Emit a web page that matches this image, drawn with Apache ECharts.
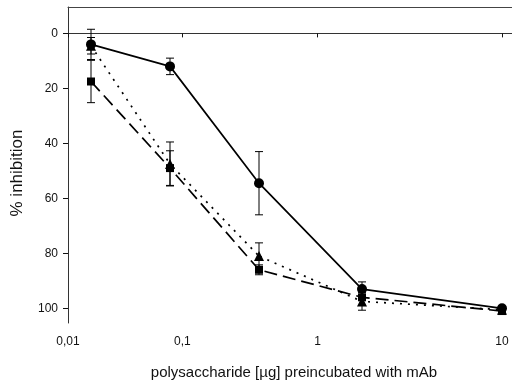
<!DOCTYPE html>
<html><head><meta charset="utf-8">
<script src="https://cdn.jsdelivr.net/npm/echarts@6/dist/echarts.min.js"></script>
<style>html,body{margin:0;padding:0;background:#fff}#c{width:512px;height:381px}</style>
</head><body><div id="c"></div>
<script>
// ---- data ----
var doses = [0.016, 0.08, 0.4, 2, 10];
var circleVals = [4, 12, 54.5, 93, 100];
var circleErr = [5.5, 3, 11.5, 2.6, 0.8];
var triangleVals = [4.5, 47.5, 81, 97.5, 100.5];
var triangleErr = [3, 8, 4.8, 3.2, 0.8];
var squareVals = [17.5, 49, 86, 96, 101];
var squareErr = [7.7, 6.3, 1.8, 3, 0.8];
var yTicks = [0, 20, 40, 60, 80, 100];
var xTicks = [0.01, 0.1, 1, 10];
var xTitle = 'polysaccharide [\u00b5g] preincubated with mAb';
var yTitle = '% inhibition';

// ---- layout ----
// The reference's log axis is unevenly stretched; it is rebuilt as a chain of
// log-scaled pieces whose edges are the x range ends and the doses.
var plotLeft = 68, plotTop = 7, plotBottom = 58;
var pieceEdges = [0.01].concat(doses).concat([11.22]);
var pieceWidths = [23, 79, 89, 103, 140, 10];
var yMin = -9.6, yMax = 105.35;

var font = 'Liberation Sans, Arial, sans-serif';
var ink = '#111';

var grids = [], xAxes = [], yAxes = [], series = [];
var nPieces = pieceWidths.length;
var left = plotLeft;
function fmt(v) { return String(Number(Number(v).toPrecision(6))).replace('.', ','); }
for (var g = 0; g < nPieces; g++) {
  var lo = pieceEdges[g], hi = pieceEdges[g + 1];
  var last = g === nPieces - 1;
  grids.push({left: left, width: pieceWidths[g], top: plotTop, bottom: plotBottom, outerBoundsMode: 'none', containLabel: false});
  left += pieceWidths[g];
  var mine = xTicks.filter(function (t) {
    return last ? (t >= lo && t <= hi) : (t >= lo && t < hi) || (g === nPieces - 2 && t === hi);
  });
  if (g === nPieces - 1) mine = mine.filter(function (t) { return t !== lo; });
  var has = mine.length > 0;
  xAxes.push({
    type: 'log', logBase: 10, gridIndex: g, min: lo, max: hi,
    axisLine: {show: false},
    axisTick: {show: has, customValues: has ? mine : undefined, length: 4, lineStyle: {color: ink}},
    axisLabel: {show: has, customValues: has ? mine : undefined, margin: 13, fontSize: 12, color: ink,
      fontFamily: font, formatter: fmt},
    splitLine: {show: false}
  });
  yAxes.push({type: 'value', gridIndex: g, inverse: true, min: yMin, max: yMax, show: false});
}
// frame grid
var F = nPieces;
grids.push({left: plotLeft, right: 0, top: plotTop, bottom: plotBottom, outerBoundsMode: 'none', containLabel: false});
xAxes.push({type: 'value', gridIndex: F, min: 0, max: 1, position: 'bottom',
  axisLine: {show: true, lineStyle: {color: '#333', width: 1}}, axisTick: {show: false}, axisLabel: {show: false},
  splitLine: {show: false}, name: xTitle, nameLocation: 'middle', nameGap: 42,
  nameTextStyle: {fontSize: 15, color: ink, fontFamily: font, padding: [0, 0, 0, 8]}});
xAxes.push({type: 'value', gridIndex: F, min: 0, max: 1, position: 'top',
  axisLine: {show: true, lineStyle: {color: '#444', width: 1}}, axisTick: {show: false}, axisLabel: {show: false}, splitLine: {show: false}});
yAxes.push({type: 'value', gridIndex: F, inverse: true, min: yMin, max: yMax,
  axisLine: {show: true, lineStyle: {color: '#333', width: 1}},
  axisTick: {show: true, customValues: yTicks, length: 5, lineStyle: {color: ink}},
  axisLabel: {customValues: yTicks, margin: 10, fontSize: 12, color: ink, fontFamily: font},
  splitLine: {show: false}, name: yTitle, nameLocation: 'middle', nameGap: 42,
  nameTextStyle: {fontSize: 17, color: ink, fontFamily: font, padding: [0, 16, 0, 0]}});

function makeErrRender(lo, hi, last) {
  return function (params, api) {
    var x = api.value(0), y = api.value(1), e = api.value(2);
    var inside = x >= lo && (x < hi || (last && x <= hi));
    if (!inside) return null;
    var top = api.coord([x, y - e]), bot = api.coord([x, y + e]);
    var cw = 4, st = {stroke: '#000', lineWidth: 1};
    return {type: 'group', children: [
      {type: 'line', shape: {x1: top[0], y1: top[1], x2: bot[0], y2: bot[1]}, style: st},
      {type: 'line', shape: {x1: top[0] - cw, y1: top[1], x2: top[0] + cw, y2: top[1]}, style: st},
      {type: 'line', shape: {x1: bot[0] - cw, y1: bot[1], x2: bot[0] + cw, y2: bot[1]}, style: st}
    ]};
  };
}

var defs = [
  {vals: squareVals, err: squareErr, symbol: 'rect', size: 8, dash: [13, 6]},
  {vals: triangleVals, err: triangleErr, symbol: 'triangle', size: 10, dash: [2, 6]},
  {vals: circleVals, err: circleErr, symbol: 'circle', size: 10, dash: 'solid'}
];
for (var g2 = 0; g2 < nPieces; g2++) {
  (function (g) {
    var lo = pieceEdges[g], hi = pieceEdges[g + 1], last = g === nPieces - 1;
    defs.forEach(function (d) {
      series.push({type: 'custom', xAxisIndex: g, yAxisIndex: g, renderItem: makeErrRender(lo, hi, last), clip: false,
        data: doses.map(function (x, i) { return [x, d.vals[i], d.err[i]]; }), z: 2});
    });
    defs.forEach(function (d) {
      series.push({type: 'line', xAxisIndex: g, yAxisIndex: g, clip: true, animation: false,
        data: doses.map(function (x, i) { return [x, d.vals[i]]; }),
        symbol: d.symbol,
        symbolSize: function (v) { return (v[0] >= lo && (v[0] < hi || (last && v[0] <= hi))) ? d.size : 0; },
        itemStyle: {color: '#000'},
        lineStyle: {color: '#000', width: 1.7, type: d.dash},
        z: 3});
    });
  })(g2);
}

var chart = echarts.init(document.getElementById('c'), null, {renderer: 'canvas'});
chart.setOption({animation: false, backgroundColor: '#fff', grid: grids, xAxis: xAxes, yAxis: yAxes, series: series});
</script></body></html>
